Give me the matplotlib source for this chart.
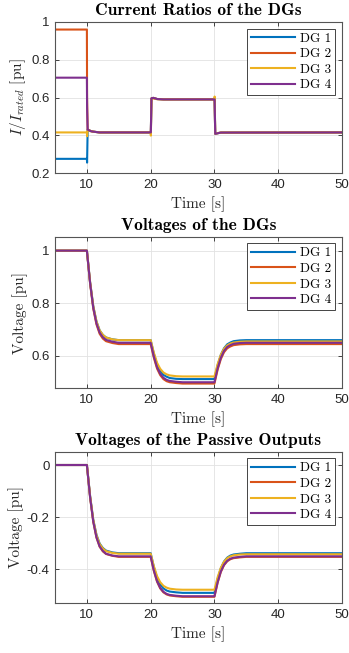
import matplotlib

matplotlib.use("Agg")
import matplotlib.pyplot as plt

plt.rcParams["mathtext.fontset"] = "cm"
plt.rcParams["axes.unicode_minus"] = False

COLORS = ["#0072BD", "#D95319", "#EDB120", "#7E2F8E"]
NAMES = ["DG 1", "DG 2", "DG 3", "DG 4"]

# current ratios
t_cur = [5, 10, 10.03, 10.12, 10.3, 10.6, 11, 12, 20, 20.03, 20.12, 20.4, 21, 22,
         30, 30.03, 30.12, 30.4, 31, 50]
cur_dg1 = [0.275, 0.275, 0.255, 0.430, 0.427, 0.422, 0.419, 0.415, 0.415, 0.415, 0.595, 0.598,
           0.592, 0.590, 0.590, 0.590, 0.408, 0.410, 0.414, 0.415]
cur_dg2 = [0.960, 0.960, 0.600, 0.430, 0.427, 0.422, 0.419, 0.415, 0.415, 0.415, 0.595, 0.598,
           0.592, 0.590, 0.590, 0.590, 0.408, 0.410, 0.414, 0.415]
cur_dg3 = [0.415, 0.415, 0.395, 0.430, 0.427, 0.422, 0.419, 0.415, 0.415, 0.398, 0.590, 0.595,
           0.591, 0.590, 0.590, 0.605, 0.410, 0.411, 0.414, 0.415]
cur_dg4 = [0.705, 0.705, 0.550, 0.430, 0.427, 0.422, 0.419, 0.415, 0.415, 0.415, 0.595, 0.598,
           0.592, 0.590, 0.590, 0.590, 0.408, 0.410, 0.414, 0.415]

# voltages (shared time knots)
t_v = [5, 10, 10.5, 11, 11.5, 12, 12.5, 13, 14, 15,
       20, 20.5, 21, 21.5, 22, 22.5, 23, 24, 25,
       30, 30.5, 31, 31.5, 32, 32.5, 33, 34, 35, 50]

v_dg1 = [1.0, 1.0, 0.881, 0.789, 0.731, 0.697, 0.680, 0.670, 0.663, 0.660,
         0.660, 0.608, 0.568, 0.543, 0.528, 0.521, 0.516, 0.513, 0.512,
         0.512, 0.564, 0.604, 0.629, 0.644, 0.651, 0.656, 0.659, 0.660, 0.660]
v_dg2 = [1.0, 1.0, 0.876, 0.780, 0.720, 0.684, 0.666, 0.656, 0.649, 0.645,
         0.645, 0.593, 0.552, 0.527, 0.512, 0.504, 0.500, 0.497, 0.495,
         0.495, 0.548, 0.588, 0.614, 0.629, 0.636, 0.641, 0.644, 0.645, 0.645]
v_dg3 = [1.0, 1.0, 0.881, 0.789, 0.731, 0.697, 0.680, 0.670, 0.663, 0.660,
         0.660, 0.612, 0.574, 0.551, 0.537, 0.530, 0.526, 0.523, 0.522,
         0.522, 0.569, 0.604, 0.627, 0.640, 0.647, 0.651, 0.654, 0.655, 0.655]
v_dg4 = [1.0, 1.0, 0.878, 0.783, 0.724, 0.689, 0.671, 0.661, 0.654, 0.650,
         0.650, 0.598, 0.557, 0.532, 0.517, 0.509, 0.505, 0.502, 0.500,
         0.500, 0.553, 0.593, 0.619, 0.634, 0.641, 0.646, 0.649, 0.650, 0.650]

# passive outputs
p_dg1 = [0.0, 0.0, -0.118, -0.210, -0.267, -0.301, -0.318, -0.328, -0.335, -0.338,
         -0.338, -0.391, -0.432, -0.458, -0.473, -0.481, -0.485, -0.488, -0.490,
         -0.490, -0.437, -0.396, -0.370, -0.355, -0.347, -0.343, -0.340, -0.338, -0.338]
p_dg2 = [0.0, 0.0, -0.123, -0.218, -0.278, -0.313, -0.331, -0.341, -0.348, -0.352,
         -0.352, -0.406, -0.447, -0.473, -0.488, -0.496, -0.500, -0.503, -0.505,
         -0.505, -0.451, -0.410, -0.384, -0.369, -0.361, -0.357, -0.354, -0.352, -0.352]
p_dg3 = [0.0, 0.0, -0.119, -0.211, -0.269, -0.303, -0.320, -0.330, -0.337, -0.340,
         -0.340, -0.388, -0.426, -0.449, -0.463, -0.470, -0.474, -0.477, -0.478,
         -0.478, -0.430, -0.394, -0.371, -0.357, -0.350, -0.346, -0.343, -0.342, -0.342]
p_dg4 = [0.0, 0.0, -0.123, -0.217, -0.277, -0.312, -0.329, -0.340, -0.347, -0.350,
         -0.350, -0.404, -0.445, -0.471, -0.486, -0.494, -0.498, -0.501, -0.503,
         -0.503, -0.449, -0.408, -0.382, -0.367, -0.359, -0.355, -0.352, -0.350, -0.350]

W, H = 349, 653
LEFT, RIGHT = 55, 342
panels = [
    (22, 173, "Current Ratios of the DGs", r"$I/I_{rated}$ [pu]", t_cur,
     [cur_dg1, cur_dg2, cur_dg3, cur_dg4], (0.2, 1.0), [0.2, 0.4, 0.6, 0.8, 1.0],
     ["0.2", "0.4", "0.6", "0.8", "1"]),
    (236.7, 388.3, "Voltages of the DGs", "Voltage [pu]", t_v,
     [v_dg1, v_dg2, v_dg3, v_dg4], (0.477, 1.053), [0.6, 0.8, 1.0], ["0.6", "0.8", "1"]),
    (451.7, 603.3, "Voltages of the Passive Outputs", "Voltage [pu]", t_v,
     [p_dg1, p_dg2, p_dg3, p_dg4], (-0.53, 0.051), [-0.4, -0.2, 0.0], ["-0.4", "-0.2", "0"]),
]

fig = plt.figure(figsize=(W / 100, H / 100), dpi=100)
for top, bottom, title, ylabel, t, series, ylim, yticks, yticklabels in panels:
    ax = fig.add_axes([LEFT / W, 1 - bottom / H, (RIGHT - LEFT) / W, (bottom - top) / H])
    for y, c, name in zip(series, COLORS, NAMES):
        ax.plot(t, y, color=c, lw=1.5, label=name)
    ax.set_xlim(5, 50)
    ax.set_ylim(*ylim)
    ax.set_xticks([10, 20, 30, 40, 50])
    ax.set_yticks(yticks)
    ax.set_yticklabels(yticklabels)
    ax.grid(True, color="#e2e2e2", lw=0.6)
    ax.set_axisbelow(True)
    ax.tick_params(direction="in", length=3, width=0.6, colors="#262626", labelsize=9.5,
                   top=True, right=True, pad=4)
    for lab in ax.get_xticklabels() + ax.get_yticklabels():
        lab.set_family("Liberation Sans")
    for s in ax.spines.values():
        s.set_color("#555555")
        s.set_linewidth(0.8)
    ax.set_title(title, family="cmb10", fontsize=12.5, pad=5)
    ax.set_xlabel("Time [s]", family="cmr10", fontsize=11, labelpad=4, color="#262626")
    ax.set_ylabel(ylabel, family="cmr10", fontsize=11, labelpad=2, color="#262626")
    leg = ax.legend(loc="upper right", prop={"family": "cmr10", "size": 9.5}, fancybox=False,
                    framealpha=1, edgecolor="#262626", handlelength=3.3, borderaxespad=0.5,
                    labelspacing=0.25, borderpad=0.3, handletextpad=0.4)
    leg.get_frame().set_linewidth(0.6)

fig.savefig("out.png", dpi=100)
